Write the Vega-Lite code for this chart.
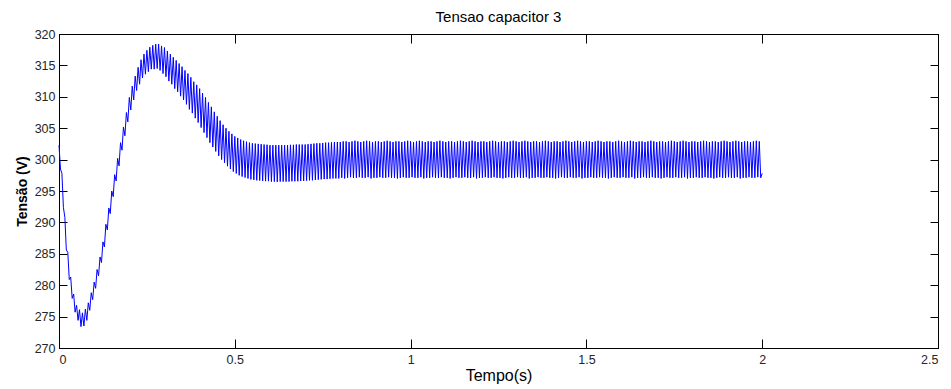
{
"$schema":"https://vega.github.io/schema/vega-lite/v6.json",
"width":879,"height":314,
"autosize":"none",
"padding":{"left":59,"top":34,"right":13,"bottom":41},
"background":"white",
"title":{"text":"Tensao capacitor 3","font":"Liberation Sans","fontSize":15,"fontWeight":"normal","color":"#000000","offset":3,"anchor":"middle"},
"config":{"view":{"stroke":"#000000","strokeWidth":1},
"axis":{"domainColor":"#000000","tickColor":"#000000","grid":false,"labelFont":"Liberation Sans","labelFontSize":12.5,"labelColor":"#262626","titleFont":"Liberation Sans","titleColor":"#000000"}},
"data":{"values":[
{"t":0,"v":302.3},{"t":0.0042,"v":298.5},{"t":0.0083,"v":297.8},{"t":0.0125,"v":292.4},{"t":0.0167,"v":290.8},{"t":0.0208,"v":285.6},{"t":0.025,"v":285.25},{"t":0.0292,"v":280.9},{"t":0.0333,"v":281.3},{"t":0.0375,"v":277.9},{"t":0.0417,"v":278.6},{"t":0.0458,"v":275.7},
{"t":0.05,"v":276.8},{"t":0.0542,"v":274.4},{"t":0.0583,"v":276.1},{"t":0.0625,"v":273.4},{"t":0.0667,"v":275.6},{"t":0.0708,"v":273.5},{"t":0.075,"v":276.2},{"t":0.0792,"v":274.4},{"t":0.0833,"v":277.2},{"t":0.0875,"v":276.0},{"t":0.0917,"v":278.8},{"t":0.0958,"v":277.7},
{"t":0.1,"v":280.5},{"t":0.1042,"v":279.5},{"t":0.1083,"v":282.5},{"t":0.1125,"v":281.5},{"t":0.1167,"v":284.5},{"t":0.1208,"v":283.6},{"t":0.125,"v":286.9},{"t":0.1292,"v":286.1},{"t":0.1333,"v":289.7},{"t":0.1375,"v":288.8},{"t":0.1417,"v":292.3},{"t":0.1458,"v":291.4},
{"t":0.15,"v":295.0},{"t":0.1542,"v":294.1},{"t":0.1583,"v":297.6},{"t":0.1625,"v":296.6},{"t":0.1667,"v":300.2},{"t":0.1708,"v":299.0},{"t":0.175,"v":302.7},{"t":0.1792,"v":301.5},{"t":0.1833,"v":305.2},{"t":0.1875,"v":303.8},{"t":0.1917,"v":307.5},{"t":0.1958,"v":306.0},
{"t":0.2,"v":309.9},{"t":0.2042,"v":307.9},{"t":0.2083,"v":311.7},{"t":0.2125,"v":309.5},{"t":0.2167,"v":313.3},{"t":0.2208,"v":311.0},{"t":0.225,"v":314.7},{"t":0.2292,"v":312.0},{"t":0.2333,"v":315.9},{"t":0.2375,"v":313.0},{"t":0.2417,"v":316.8},{"t":0.2458,"v":313.6},
{"t":0.25,"v":317.4},{"t":0.2542,"v":314.0},{"t":0.2583,"v":317.9},{"t":0.2625,"v":314.4},{"t":0.2667,"v":318.2},{"t":0.2708,"v":314.4},{"t":0.275,"v":318.4},{"t":0.2792,"v":314.5},{"t":0.2833,"v":318.4},{"t":0.2875,"v":314.2},{"t":0.2917,"v":318.1},{"t":0.2958,"v":313.7},
{"t":0.3,"v":317.85},{"t":0.3042,"v":313.2},{"t":0.3083,"v":317.3},{"t":0.3125,"v":312.5},{"t":0.3167,"v":316.8},{"t":0.3208,"v":312.0},{"t":0.325,"v":316.3},{"t":0.3292,"v":311.3},{"t":0.3333,"v":315.8},{"t":0.3375,"v":310.8},{"t":0.3417,"v":315.3},{"t":0.3458,"v":310.1},
{"t":0.35,"v":314.8},{"t":0.3542,"v":309.5},{"t":0.3583,"v":314.2},{"t":0.3625,"v":308.8},{"t":0.3667,"v":313.7},{"t":0.3708,"v":308.0},{"t":0.375,"v":313.1},{"t":0.3792,"v":307.4},{"t":0.3833,"v":312.4},{"t":0.3875,"v":306.6},{"t":0.3917,"v":311.9},{"t":0.3958,"v":305.9},
{"t":0.4,"v":311.3},{"t":0.4042,"v":305.1},{"t":0.4083,"v":310.6},{"t":0.4125,"v":304.3},{"t":0.4167,"v":309.9},{"t":0.4208,"v":303.5},{"t":0.425,"v":309.1},{"t":0.4292,"v":302.7},{"t":0.4333,"v":308.4},{"t":0.4375,"v":302.0},{"t":0.4417,"v":307.6},{"t":0.4458,"v":301.3},
{"t":0.45,"v":306.9},{"t":0.4542,"v":300.6},{"t":0.4583,"v":306.2},{"t":0.4625,"v":300.0},{"t":0.4667,"v":305.55},{"t":0.4708,"v":299.5},{"t":0.475,"v":305.0},{"t":0.4792,"v":298.95},{"t":0.4833,"v":304.5},{"t":0.4875,"v":298.5},{"t":0.4917,"v":304.1},{"t":0.4958,"v":298.1},
{"t":0.5,"v":303.7},{"t":0.5042,"v":297.8},{"t":0.5083,"v":303.45},{"t":0.5125,"v":297.5},{"t":0.5167,"v":303.2},{"t":0.5208,"v":297.3},{"t":0.525,"v":303.0},{"t":0.5292,"v":297.15},{"t":0.5333,"v":302.85},{"t":0.5375,"v":297.0},{"t":0.5417,"v":302.7},{"t":0.5458,"v":296.85},
{"t":0.55,"v":302.6},{"t":0.5542,"v":296.77},{"t":0.5583,"v":302.55},{"t":0.5625,"v":296.7},{"t":0.5667,"v":302.5},{"t":0.5708,"v":296.67},{"t":0.575,"v":302.45},{"t":0.5792,"v":296.6},{"t":0.5833,"v":302.4},{"t":0.5875,"v":296.57},{"t":0.5917,"v":302.37},{"t":0.5958,"v":296.57},
{"t":0.6,"v":302.3},{"t":0.6042,"v":296.5},{"t":0.6083,"v":302.3},{"t":0.6125,"v":296.5},{"t":0.6167,"v":302.3},{"t":0.6208,"v":296.45},{"t":0.625,"v":302.3},{"t":0.6292,"v":296.5},{"t":0.6333,"v":302.3},{"t":0.6375,"v":296.5},{"t":0.6417,"v":302.3},{"t":0.6458,"v":296.5},
{"t":0.65,"v":302.3},{"t":0.6542,"v":296.5},{"t":0.6583,"v":302.35},{"t":0.6625,"v":296.55},{"t":0.6667,"v":302.35},{"t":0.6708,"v":296.55},{"t":0.675,"v":302.4},{"t":0.6792,"v":296.55},{"t":0.6833,"v":302.4},{"t":0.6875,"v":296.6},{"t":0.6917,"v":302.4},{"t":0.6958,"v":296.6},
{"t":0.7,"v":302.4},{"t":0.7042,"v":296.65},{"t":0.7083,"v":302.45},{"t":0.7125,"v":296.7},{"t":0.7167,"v":302.5},{"t":0.7208,"v":296.7},{"t":0.725,"v":302.55},{"t":0.7292,"v":296.75},{"t":0.7333,"v":302.6},{"t":0.7375,"v":296.8},{"t":0.7417,"v":302.6},{"t":0.7458,"v":296.85},
{"t":0.75,"v":302.65},{"t":0.7542,"v":296.9},{"t":0.7583,"v":302.7},{"t":0.7625,"v":296.9},{"t":0.7667,"v":302.7},{"t":0.7708,"v":296.95},{"t":0.775,"v":302.75},{"t":0.7792,"v":297.0},{"t":0.7833,"v":302.8},{"t":0.7875,"v":297.0},{"t":0.7917,"v":302.8},{"t":0.7958,"v":297.0},
{"t":0.8,"v":302.8},{"t":0.8042,"v":297.1},{"t":0.8083,"v":302.9},{"t":0.8125,"v":297.0},{"t":0.8167,"v":302.9},{"t":0.8208,"v":297.1},{"t":0.825,"v":302.8},{"t":0.8292,"v":297.2},{"t":0.8333,"v":302.9},{"t":0.8375,"v":297.1},{"t":0.8417,"v":303.0},{"t":0.8458,"v":297.1},
{"t":0.85,"v":302.9},{"t":0.8542,"v":297.2},{"t":0.8583,"v":302.8},{"t":0.8625,"v":297.1},{"t":0.8667,"v":302.9},{"t":0.8708,"v":297.1},{"t":0.875,"v":303.0},{"t":0.8792,"v":297.2},{"t":0.8833,"v":302.9},{"t":0.8875,"v":297.0},{"t":0.8917,"v":302.8},{"t":0.8958,"v":297.1},
{"t":0.9,"v":302.9},{"t":0.9042,"v":297.1},{"t":0.9083,"v":302.9},{"t":0.9125,"v":297.2},{"t":0.9167,"v":302.8},{"t":0.9208,"v":297.1},{"t":0.925,"v":302.9},{"t":0.9292,"v":297.1},{"t":0.9333,"v":303.0},{"t":0.9375,"v":297.2},{"t":0.9417,"v":302.9},{"t":0.9458,"v":297.1},
{"t":0.95,"v":302.8},{"t":0.9542,"v":297.1},{"t":0.9583,"v":302.9},{"t":0.9625,"v":297.0},{"t":0.9667,"v":302.9},{"t":0.9708,"v":297.1},{"t":0.975,"v":302.8},{"t":0.9792,"v":297.2},{"t":0.9833,"v":302.9},{"t":0.9875,"v":297.1},{"t":0.9917,"v":303.0},{"t":0.9958,"v":297.1},
{"t":1,"v":302.9},{"t":1.0042,"v":297.2},{"t":1.0083,"v":302.8},{"t":1.0125,"v":297.1},{"t":1.0167,"v":302.9},{"t":1.0208,"v":297.1},{"t":1.025,"v":303.0},{"t":1.0292,"v":297.2},{"t":1.0333,"v":302.9},{"t":1.0375,"v":297.0},{"t":1.0417,"v":302.8},{"t":1.0458,"v":297.1},
{"t":1.05,"v":302.9},{"t":1.0542,"v":297.1},{"t":1.0583,"v":302.9},{"t":1.0625,"v":297.2},{"t":1.0667,"v":302.8},{"t":1.0708,"v":297.1},{"t":1.075,"v":302.9},{"t":1.0792,"v":297.1},{"t":1.0833,"v":303.0},{"t":1.0875,"v":297.2},{"t":1.0917,"v":302.9},{"t":1.0958,"v":297.1},
{"t":1.1,"v":302.8},{"t":1.1042,"v":297.1},{"t":1.1083,"v":302.9},{"t":1.1125,"v":297.0},{"t":1.1167,"v":302.9},{"t":1.1208,"v":297.1},{"t":1.125,"v":302.8},{"t":1.1292,"v":297.2},{"t":1.1333,"v":302.9},{"t":1.1375,"v":297.1},{"t":1.1417,"v":303.0},{"t":1.1458,"v":297.1},
{"t":1.15,"v":302.9},{"t":1.1542,"v":297.2},{"t":1.1583,"v":302.8},{"t":1.1625,"v":297.1},{"t":1.1667,"v":302.9},{"t":1.1708,"v":297.1},{"t":1.175,"v":303.0},{"t":1.1792,"v":297.2},{"t":1.1833,"v":302.9},{"t":1.1875,"v":297.0},{"t":1.1917,"v":302.8},{"t":1.1958,"v":297.1},
{"t":1.2,"v":302.9},{"t":1.2042,"v":297.1},{"t":1.2083,"v":302.9},{"t":1.2125,"v":297.2},{"t":1.2167,"v":302.8},{"t":1.2208,"v":297.1},{"t":1.225,"v":302.9},{"t":1.2292,"v":297.1},{"t":1.2333,"v":303.0},{"t":1.2375,"v":297.2},{"t":1.2417,"v":302.9},{"t":1.2458,"v":297.1},
{"t":1.25,"v":302.8},{"t":1.2542,"v":297.1},{"t":1.2583,"v":302.9},{"t":1.2625,"v":297.0},{"t":1.2667,"v":302.9},{"t":1.2708,"v":297.1},{"t":1.275,"v":302.8},{"t":1.2792,"v":297.2},{"t":1.2833,"v":302.9},{"t":1.2875,"v":297.1},{"t":1.2917,"v":303.0},{"t":1.2958,"v":297.1},
{"t":1.3,"v":302.9},{"t":1.3042,"v":297.2},{"t":1.3083,"v":302.8},{"t":1.3125,"v":297.1},{"t":1.3167,"v":302.9},{"t":1.3208,"v":297.1},{"t":1.325,"v":303.0},{"t":1.3292,"v":297.2},{"t":1.3333,"v":302.9},{"t":1.3375,"v":297.0},{"t":1.3417,"v":302.8},{"t":1.3458,"v":297.1},
{"t":1.35,"v":302.9},{"t":1.3542,"v":297.1},{"t":1.3583,"v":302.9},{"t":1.3625,"v":297.2},{"t":1.3667,"v":302.8},{"t":1.3708,"v":297.1},{"t":1.375,"v":302.9},{"t":1.3792,"v":297.1},{"t":1.3833,"v":303.0},{"t":1.3875,"v":297.2},{"t":1.3917,"v":302.9},{"t":1.3958,"v":297.1},
{"t":1.4,"v":302.8},{"t":1.4042,"v":297.1},{"t":1.4083,"v":302.9},{"t":1.4125,"v":297.0},{"t":1.4167,"v":302.9},{"t":1.4208,"v":297.1},{"t":1.425,"v":302.8},{"t":1.4292,"v":297.2},{"t":1.4333,"v":302.9},{"t":1.4375,"v":297.1},{"t":1.4417,"v":303.0},{"t":1.4458,"v":297.1},
{"t":1.45,"v":302.9},{"t":1.4542,"v":297.2},{"t":1.4583,"v":302.8},{"t":1.4625,"v":297.1},{"t":1.4667,"v":302.9},{"t":1.4708,"v":297.1},{"t":1.475,"v":303.0},{"t":1.4792,"v":297.2},{"t":1.4833,"v":302.9},{"t":1.4875,"v":297.0},{"t":1.4917,"v":302.8},{"t":1.4958,"v":297.1},
{"t":1.5,"v":302.9},{"t":1.5042,"v":297.1},{"t":1.5083,"v":302.9},{"t":1.5125,"v":297.2},{"t":1.5167,"v":302.8},{"t":1.5208,"v":297.1},{"t":1.525,"v":302.9},{"t":1.5292,"v":297.1},{"t":1.5333,"v":303.0},{"t":1.5375,"v":297.2},{"t":1.5417,"v":302.9},{"t":1.5458,"v":297.1},
{"t":1.55,"v":302.8},{"t":1.5542,"v":297.1},{"t":1.5583,"v":302.9},{"t":1.5625,"v":297.0},{"t":1.5667,"v":302.9},{"t":1.5708,"v":297.1},{"t":1.575,"v":302.8},{"t":1.5792,"v":297.2},{"t":1.5833,"v":302.9},{"t":1.5875,"v":297.1},{"t":1.5917,"v":303.0},{"t":1.5958,"v":297.1},
{"t":1.6,"v":302.9},{"t":1.6042,"v":297.2},{"t":1.6083,"v":302.8},{"t":1.6125,"v":297.1},{"t":1.6167,"v":302.9},{"t":1.6208,"v":297.1},{"t":1.625,"v":303.0},{"t":1.6292,"v":297.2},{"t":1.6333,"v":302.9},{"t":1.6375,"v":297.0},{"t":1.6417,"v":302.8},{"t":1.6458,"v":297.1},
{"t":1.65,"v":302.9},{"t":1.6542,"v":297.1},{"t":1.6583,"v":302.9},{"t":1.6625,"v":297.2},{"t":1.6667,"v":302.8},{"t":1.6708,"v":297.1},{"t":1.675,"v":302.9},{"t":1.6792,"v":297.1},{"t":1.6833,"v":303.0},{"t":1.6875,"v":297.2},{"t":1.6917,"v":302.9},{"t":1.6958,"v":297.1},
{"t":1.7,"v":302.8},{"t":1.7042,"v":297.1},{"t":1.7083,"v":302.9},{"t":1.7125,"v":297.0},{"t":1.7167,"v":302.9},{"t":1.7208,"v":297.1},{"t":1.725,"v":302.8},{"t":1.7292,"v":297.2},{"t":1.7333,"v":302.9},{"t":1.7375,"v":297.1},{"t":1.7417,"v":303.0},{"t":1.7458,"v":297.1},
{"t":1.75,"v":302.9},{"t":1.7542,"v":297.2},{"t":1.7583,"v":302.8},{"t":1.7625,"v":297.1},{"t":1.7667,"v":302.9},{"t":1.7708,"v":297.1},{"t":1.775,"v":303.0},{"t":1.7792,"v":297.2},{"t":1.7833,"v":302.9},{"t":1.7875,"v":297.0},{"t":1.7917,"v":302.8},{"t":1.7958,"v":297.1},
{"t":1.8,"v":302.9},{"t":1.8042,"v":297.1},{"t":1.8083,"v":302.9},{"t":1.8125,"v":297.2},{"t":1.8167,"v":302.8},{"t":1.8208,"v":297.1},{"t":1.825,"v":302.9},{"t":1.8292,"v":297.1},{"t":1.8333,"v":303.0},{"t":1.8375,"v":297.2},{"t":1.8417,"v":302.9},{"t":1.8458,"v":297.1},
{"t":1.85,"v":302.8},{"t":1.8542,"v":297.1},{"t":1.8583,"v":302.9},{"t":1.8625,"v":297.0},{"t":1.8667,"v":302.9},{"t":1.8708,"v":297.1},{"t":1.875,"v":302.8},{"t":1.8792,"v":297.2},{"t":1.8833,"v":302.9},{"t":1.8875,"v":297.1},{"t":1.8917,"v":303.0},{"t":1.8958,"v":297.1},
{"t":1.9,"v":302.9},{"t":1.9042,"v":297.2},{"t":1.9083,"v":302.8},{"t":1.9125,"v":297.1},{"t":1.9167,"v":302.9},{"t":1.9208,"v":297.1},{"t":1.925,"v":303.0},{"t":1.9292,"v":297.2},{"t":1.9333,"v":302.9},{"t":1.9375,"v":297.0},{"t":1.9417,"v":302.8},{"t":1.9458,"v":297.1},
{"t":1.95,"v":302.9},{"t":1.9542,"v":297.1},{"t":1.9583,"v":302.9},{"t":1.9625,"v":297.2},{"t":1.9667,"v":302.8},{"t":1.9708,"v":297.1},{"t":1.975,"v":302.9},{"t":1.9792,"v":297.1},{"t":1.9833,"v":303.0},{"t":1.9875,"v":297.2},{"t":1.9917,"v":302.9},{"t":1.9958,"v":297.1},
{"t":2,"v":297.8}
]},
"layer":[
{"mark":{"type":"line","color":"#0000FF","strokeWidth":1,"interpolate":"linear"},
"encoding":{
"x":{"field":"t","type":"quantitative","scale":{"domain":[0,2.5],"nice":false,"zero":false},
"axis":{"orient":"bottom","values":[0,0.5,1,1.5,2,2.5],"format":"~g","tickSize":-9,"labelPadding":14,"title":"Tempo(s)","titleFontSize":16,"titleFontWeight":"normal","titlePadding":2}},
"y":{"field":"v","type":"quantitative","scale":{"domain":[270,320],"nice":false,"zero":false},
"axis":{"orient":"left","values":[270,275,280,285,290,295,300,305,310,315,320],"tickSize":-8,"labelPadding":12,"title":"Tensão (V)","titleFontSize":14,"titleFontWeight":"bold","titlePadding":5}}}},
{"mark":{"type":"line","opacity":0},
"encoding":{
"x":{"field":"t","type":"quantitative","scale":{"domain":[0,2.5],"nice":false,"zero":false},
"axis":{"orient":"top","values":[0,0.5,1,1.5,2,2.5],"tickSize":-9,"labels":false,"title":null}},
"y":{"field":"v","type":"quantitative","scale":{"domain":[270,320],"nice":false,"zero":false},
"axis":{"orient":"right","values":[270,275,280,285,290,295,300,305,310,315,320],"tickSize":-8,"labels":false,"title":null}}}}
],
"resolve":{"axis":{"x":"independent","y":"independent"}}
}
